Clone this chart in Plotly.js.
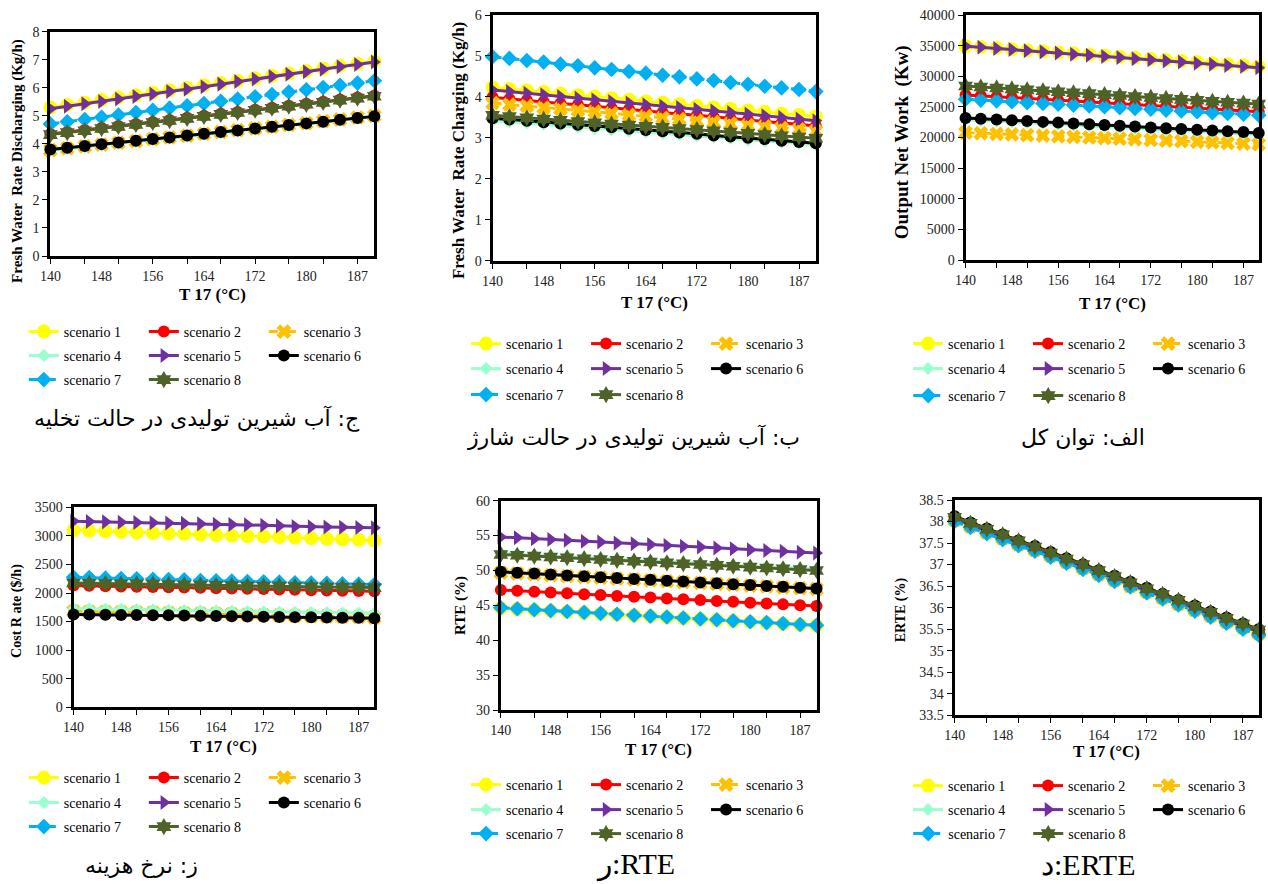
<!DOCTYPE html>
<html><head><meta charset="utf-8">
<script src="https://cdn.plot.ly/plotly-3.0.1.min.js"></script>
<style>html,body{margin:0;padding:0;background:#fff}#chart{width:1268px;height:884px}</style>
</head><body><div id="chart"></div>
<script>
const W = 1268, H = 884;

// Temperature T17 (°C) – 20 evaluation points
const T = [140, 142.6, 145.3, 147.9, 150.5, 153.2, 155.8, 158.4, 161.1, 163.7, 166.3, 168.9, 171.6, 174.2, 176.8, 179.5, 182.1, 184.7, 187.4, 190];
const xTickVals = [140, 147.9, 155.8, 163.7, 171.6, 179.5, 187.4];
const xTickText = ['140', '148', '156', '164', '172', '180', '187'];
const xMinorTicks = [140, 145.3, 150.5, 155.8, 161.1, 166.3, 171.6, 176.8, 182.1, 187.4];
const scenarioNames = ['scenario 1', 'scenario 2', 'scenario 3', 'scenario 4', 'scenario 5', 'scenario 6', 'scenario 7', 'scenario 8'];

// ج: Fresh water rate discharging (Kg/h)
const dis1 = [5.30,5.39,5.47,5.56,5.65,5.73,5.82,5.91,5.99,6.08,6.17,6.25,6.34,6.43,6.51,6.60,6.69,6.78,6.86,6.95];
const dis2 = [4.35,4.42,4.49,4.57,4.64,4.71,4.78,4.85,4.93,5.00,5.07,5.14,5.22,5.29,5.36,5.43,5.50,5.58,5.65,5.72];
const dis3 = [3.78,3.84,3.91,3.97,4.04,4.10,4.17,4.23,4.29,4.36,4.42,4.49,4.55,4.61,4.68,4.74,4.81,4.87,4.94,5.00];
const dis4 = [3.76,3.82,3.89,3.95,4.01,4.08,4.14,4.20,4.27,4.33,4.39,4.46,4.52,4.58,4.64,4.71,4.77,4.83,4.90,4.96];
const dis5 = [5.25,5.34,5.43,5.51,5.60,5.69,5.78,5.87,5.95,6.04,6.13,6.22,6.31,6.40,6.48,6.57,6.66,6.75,6.83,6.92];
const dis6 = [3.80,3.86,3.92,3.99,4.05,4.11,4.17,4.23,4.30,4.36,4.42,4.48,4.55,4.61,4.67,4.73,4.79,4.86,4.92,4.98];
const dis7 = [4.71,4.79,4.87,4.95,5.03,5.12,5.20,5.28,5.36,5.44,5.52,5.60,5.68,5.76,5.85,5.93,6.01,6.09,6.17,6.25];
const dis8 = [4.33,4.40,4.47,4.55,4.62,4.69,4.76,4.83,4.91,4.98,5.05,5.12,5.20,5.27,5.34,5.41,5.48,5.56,5.63,5.70];

// ب: Fresh water rate charging (Kg/h)
const chg1 = [4.23,4.19,4.16,4.12,4.08,4.04,4.01,3.97,3.93,3.89,3.86,3.82,3.78,3.74,3.71,3.67,3.63,3.59,3.56,3.52];
const chg2 = [3.99,3.95,3.92,3.88,3.84,3.81,3.77,3.73,3.70,3.66,3.62,3.58,3.55,3.51,3.47,3.44,3.40,3.36,3.33,3.29];
const chg3 = [3.85,3.81,3.78,3.74,3.71,3.67,3.64,3.60,3.56,3.53,3.49,3.46,3.42,3.39,3.35,3.31,3.28,3.24,3.21,3.17];
const chg4 = [3.42,3.39,3.36,3.33,3.30,3.26,3.23,3.20,3.17,3.14,3.11,3.08,3.05,3.02,2.99,2.95,2.92,2.89,2.86,2.83];
const chg5 = [4.17,4.13,4.09,4.05,4.01,3.97,3.93,3.89,3.85,3.81,3.78,3.74,3.70,3.66,3.62,3.58,3.54,3.50,3.46,3.42];
const chg6 = [3.48,3.45,3.42,3.38,3.35,3.32,3.29,3.26,3.22,3.19,3.16,3.13,3.10,3.06,3.03,3.00,2.97,2.93,2.90,2.87];
const chg7 = [4.98,4.94,4.89,4.85,4.80,4.76,4.71,4.67,4.62,4.58,4.53,4.49,4.44,4.40,4.35,4.31,4.26,4.22,4.18,4.13];
const chg8 = [3.55,3.52,3.49,3.46,3.43,3.40,3.37,3.34,3.31,3.28,3.26,3.23,3.20,3.17,3.14,3.11,3.08,3.05,3.02,2.99];

// الف: Output net work (Kw)
const net1 = [34950,34770,34600,34420,34250,34070,33890,33720,33540,33360,33190,33010,32840,32660,32480,32310,32130,31950,31780,31600];
const net2 = [26950,26810,26660,26520,26370,26230,26080,25940,25790,25650,25500,25360,25210,25070,24920,24780,24630,24490,24340,24200];
const net3 = [20800,20700,20600,20500,20400,20300,20200,20100,20000,19900,19800,19700,19600,19500,19400,19300,19200,19100,19000,18900];
const net4 = [22900,22770,22650,22520,22390,22270,22140,22020,21890,21760,21640,21510,21380,21260,21130,21010,20880,20750,20630,20500];
const net5 = [34900,34720,34530,34350,34160,33980,33790,33610,33430,33240,33060,32870,32690,32510,32320,32140,31950,31770,31580,31400];
const net6 = [23200,23070,22940,22810,22680,22550,22430,22300,22170,22040,21910,21780,21650,21520,21390,21270,21140,21010,20880,20750];
const net7 = [26250,26110,25980,25840,25700,25570,25430,25290,25160,25020,24880,24750,24610,24470,24330,24200,24060,23920,23790,23650];
const net8 = [28400,28240,28090,27930,27780,27620,27470,27310,27160,27000,26850,26690,26540,26380,26230,26070,25920,25760,25610,25450];

// ز: Cost rate ($/h)
const cost1 = [3100,3090,3080,3070,3060,3050,3040,3035,3025,3015,3005,2995,2990,2980,2970,2960,2950,2940,2930,2920];
const cost2 = [2130,2125,2120,2115,2110,2105,2100,2095,2090,2085,2080,2075,2070,2060,2055,2050,2045,2040,2035,2030];
const cost3 = [1680,1675,1670,1665,1660,1655,1650,1645,1640,1635,1630,1620,1615,1610,1600,1595,1590,1585,1580,1570];
const cost4 = [1730,1725,1720,1715,1710,1705,1700,1695,1690,1685,1680,1675,1670,1665,1665,1660,1655,1650,1650,1645];
const cost5 = [3255,3250,3245,3240,3235,3230,3225,3220,3210,3205,3200,3195,3185,3175,3165,3160,3155,3150,3145,3140];
const cost6 = [1625,1622,1620,1617,1615,1612,1610,1605,1600,1597,1595,1590,1585,1580,1578,1575,1572,1568,1565,1560];
const cost7 = [2275,2270,2260,2255,2250,2240,2235,2230,2220,2215,2210,2200,2195,2190,2180,2175,2170,2160,2155,2150];
const cost8 = [2175,2170,2165,2160,2160,2155,2150,2145,2140,2135,2130,2125,2120,2120,2115,2110,2105,2100,2100,2095];

// ر: RTE (%)
const rte1 = [44.60,44.47,44.34,44.21,44.07,43.94,43.81,43.68,43.55,43.42,43.28,43.15,43.02,42.89,42.76,42.63,42.49,42.36,42.23,42.10];
const rte2 = [47.20,47.08,46.96,46.84,46.72,46.59,46.47,46.35,46.23,46.11,45.99,45.87,45.75,45.63,45.51,45.38,45.26,45.14,45.02,44.90];
const rte3 = [49.70,49.58,49.45,49.33,49.20,49.08,48.96,48.83,48.71,48.58,48.46,48.34,48.21,48.09,47.96,47.84,47.72,47.59,47.47,47.35];
const rte4 = [52.50,52.38,52.26,52.14,52.02,51.89,51.77,51.65,51.53,51.41,51.29,51.17,51.05,50.93,50.81,50.68,50.56,50.44,50.32,50.20];
const rte5 = [54.80,54.68,54.56,54.44,54.32,54.19,54.07,53.95,53.83,53.71,53.59,53.47,53.35,53.23,53.11,52.98,52.86,52.74,52.62,52.50];
const rte6 = [49.80,49.67,49.55,49.42,49.29,49.17,49.04,48.92,48.79,48.66,48.54,48.41,48.28,48.16,48.03,47.91,47.78,47.65,47.53,47.40];
const rte7 = [44.65,44.52,44.38,44.25,44.12,43.99,43.85,43.72,43.59,43.46,43.32,43.19,43.06,42.93,42.79,42.66,42.53,42.40,42.26,42.13];
const rte8 = [52.30,52.18,52.06,51.94,51.82,51.69,51.57,51.45,51.33,51.21,51.09,50.97,50.85,50.73,50.61,50.48,50.36,50.24,50.12,50.00];

// د: ERTE (%)
const erte1 = [38.02,37.88,37.74,37.60,37.46,37.33,37.19,37.05,36.91,36.77,36.63,36.49,36.35,36.21,36.07,35.94,35.80,35.66,35.52,35.38];
const erte2 = [38.06,37.92,37.78,37.64,37.50,37.37,37.23,37.09,36.95,36.81,36.67,36.53,36.39,36.26,36.12,35.98,35.84,35.70,35.57,35.44];
const erte3 = [38.03,37.89,37.75,37.61,37.47,37.34,37.20,37.06,36.92,36.78,36.64,36.50,36.37,36.23,36.09,35.95,35.81,35.67,35.54,35.40];
const erte4 = [38.06,37.92,37.78,37.64,37.50,37.37,37.23,37.09,36.95,36.81,36.67,36.53,36.39,36.26,36.12,35.98,35.84,35.70,35.57,35.44];
const erte5 = [38.06,37.92,37.78,37.64,37.50,37.37,37.23,37.09,36.95,36.81,36.67,36.53,36.39,36.26,36.12,35.98,35.84,35.70,35.57,35.44];
const erte6 = [38.12,37.98,37.84,37.70,37.56,37.43,37.29,37.15,37.01,36.87,36.74,36.60,36.46,36.32,36.18,36.05,35.91,35.77,35.63,35.50];
const erte7 = [38.00,37.86,37.72,37.58,37.44,37.31,37.17,37.03,36.89,36.75,36.61,36.48,36.34,36.20,36.06,35.92,35.78,35.64,35.50,35.36];
const erte8 = [38.10,37.96,37.82,37.69,37.55,37.41,37.27,37.13,37.00,36.86,36.72,36.58,36.44,36.31,36.17,36.03,35.89,35.75,35.62,35.48];

const panelSeries = [
  [dis1, dis2, dis3, dis4, dis5, dis6, dis7, dis8],
  [chg1, chg2, chg3, chg4, chg5, chg6, chg7, chg8],
  [net1, net2, net3, net4, net5, net6, net7, net8],
  [cost1, cost2, cost3, cost4, cost5, cost6, cost7, cost8],
  [rte1, rte2, rte3, rte4, rte5, rte6, rte7, rte8],
  [erte1, erte2, erte3, erte4, erte5, erte6, erte7, erte8]
];
const yTitles = ['Fresh Water  Rate Discharging (Kg/h)', 'Fresh Water  Rate Charging (Kg/h)', 'Output Net Work  (Kw)', 'Cost R ate ($/h)', 'RTE (%)', 'ERTE (%)'];
const yRanges = [[0, 8], [0, 6], [0, 40000], [0, 3500], [30, 60], [33.5, 38.5]];
const yDticks = [1, 1, 5000, 500, 5, 0.5];
const captions = [
  'ج: آب شیرین تولیدی در حالت تخلیه',
  'ب: آب شیرین تولیدی در حالت شارژ',
  'الف: توان کل',
  'ز: نرخ هزینه',
  'ر:RTE',
  'د:ERTE'
];

// ---- styling / layout geometry (pixels) ----
const styles = [
  {color: '#FFFF00', symbol: 'circle', size: 14, dash: 'solid'},
  {color: '#FF0000', symbol: 'circle', size: 12, dash: 'solid'},
  {color: '#FFC000', symbol: 'x', size: 13, dash: 'dash'},
  {color: '#99FFCC', symbol: 'diamond', size: 10, dash: 'solid'},
  {color: '#7030A0', symbol: 'triangle-right', size: 13, dash: 'solid'},
  {color: '#000000', symbol: 'circle', size: 12, dash: 'solid'},
  {color: '#00B0F0', symbol: 'diamond', size: 12, dash: 'dashdot'},
  {color: '#4F6228', symbol: 'hexagram', size: 13, dash: 'solid'}
];
const boxes = [
  [50.7, 376.7, 31.7, 256],
  [495.7, 821, 15, 260.7],
  [971.7, 1266.7, 15, 260],
  [74, 376.7, 507.3, 707.3],
  [504, 821.7, 500.7, 710],
  [960.7, 1266.7, 500, 715.3]
];
const yTitlePos = [[17, 161, 15], [461, 151, 17], [908, 142, 19], [17, 611, 14], [463, 606, 15], [907, 610, 14]];
const xTitleY = [295, 302, 303, 746, 749, 751];
const legendRowsY = [[332, 356, 380], [344, 369, 395], [344, 369, 396], [778, 803, 827], [785, 810, 834], [786, 810, 834]];
const legendX = [24, 469, 914, 24, 469, 914];
const captionPos = [
  [198, 418, 22, 'DejaVu Sans'], [638, 437, 22, 'DejaVu Sans'], [1090, 437, 22, 'DejaVu Sans'],
  [142, 865, 22, 'DejaVu Sans'], [640, 864, 30, 'Liberation Serif'], [1095, 864, 30, 'Liberation Serif']
];

const serif = 'Liberation Serif, Times New Roman, serif';
const traces = [];
const layout = {
  width: W, height: H, margin: {l: 0, r: 0, t: 0, b: 0},
  paper_bgcolor: '#fff', plot_bgcolor: '#fff',
  showlegend: true, annotations: [],
  font: {family: serif, color: '#000'}
};

function rowOf(k) { return k < 3 ? 0 : (k < 6 ? 1 : 2); }
function legendId(n) { return n === 1 ? 'legend' : 'legend' + n; }

for (let p = 0; p < 6; p++) {
  const ax = p === 0 ? '' : String(p + 1);
  const [l, r, t, b] = boxes[p];
  layout['xaxis' + ax] = {
    domain: [l / W, r / W], anchor: 'y' + ax, range: [140, 190],
    showgrid: false, zeroline: false, showline: true, mirror: true, linecolor: '#000', linewidth: 3,
    tickmode: 'array', tickvals: xTickVals, ticktext: xTickText,
    ticks: 'outside', ticklen: 5, tickcolor: 'rgba(0,0,0,0)',
    tickfont: {family: serif, size: 14, color: '#222'},
    minor: {tickmode: 'array', tickvals: xMinorTicks, ticks: 'outside', ticklen: 5, tickwidth: 1, tickcolor: '#000', showgrid: false},
    fixedrange: true
  };
  layout['yaxis' + ax] = {
    domain: [1 - b / H, 1 - t / H], anchor: 'x' + ax, range: yRanges[p],
    tick0: yRanges[p][0], dtick: yDticks[p], tickformat: yDticks[p] >= 1 ? 'd' : '',
    showgrid: false, zeroline: false, showline: true, mirror: true, linecolor: '#000', linewidth: 3,
    ticks: 'outside', ticklen: 5, tickcolor: '#000', tickwidth: 1,
    exponentformat: 'none',
    tickfont: {family: serif, size: 14, color: '#222'},
    fixedrange: true
  };
  for (let k = 0; k < 8; k++) {
    const s = styles[k];
    traces.push({
      x: T, y: panelSeries[p][k], xaxis: 'x' + ax, yaxis: 'y' + ax,
      type: 'scatter', mode: 'lines+markers', name: scenarioNames[k],
      legend: legendId(p * 3 + rowOf(k) + 1),
      cliponaxis: false,
      line: {color: s.color, width: 3, dash: s.dash},
      marker: {symbol: s.symbol, size: s.size, color: s.color, line: {width: 0}}
    });
  }
  for (let rr = 0; rr < 3; rr++) {
    layout[legendId(p * 3 + rr + 1)] = {
      orientation: 'h', x: legendX[p] / W, y: 1 - legendRowsY[p][rr] / H,
      xanchor: 'left', yanchor: 'middle', entrywidth: 75, entrywidthmode: 'pixels',
      bgcolor: 'rgba(0,0,0,0)', borderwidth: 0, traceorder: 'normal',
      font: {family: serif, size: 14, color: '#000'}, itemwidth: 30
    };
  }
  layout.annotations.push({
    text: '<b>' + yTitles[p] + '</b>', xref: 'paper', yref: 'paper',
    x: yTitlePos[p][0] / W, y: 1 - yTitlePos[p][1] / H, textangle: -90, showarrow: false,
    xanchor: 'center', yanchor: 'middle', font: {family: serif, size: yTitlePos[p][2], color: '#000'}
  });
  layout.annotations.push({
    text: '<b>T 17 (°C)</b>', xref: 'paper', yref: 'paper',
    x: ((l + r) / 2) / W, y: 1 - xTitleY[p] / H, showarrow: false,
    xanchor: 'center', yanchor: 'middle', font: {family: serif, size: 17, color: '#000'}
  });
  layout.annotations.push({
    text: captions[p], xref: 'paper', yref: 'paper',
    x: captionPos[p][0] / W, y: 1 - captionPos[p][1] / H, showarrow: false,
    xanchor: 'center', yanchor: 'middle', font: {family: captionPos[p][3], size: captionPos[p][2], color: '#000'}
  });
}

Plotly.newPlot('chart', traces, layout, {displayModeBar: false, staticPlot: true});
</script></body></html>
